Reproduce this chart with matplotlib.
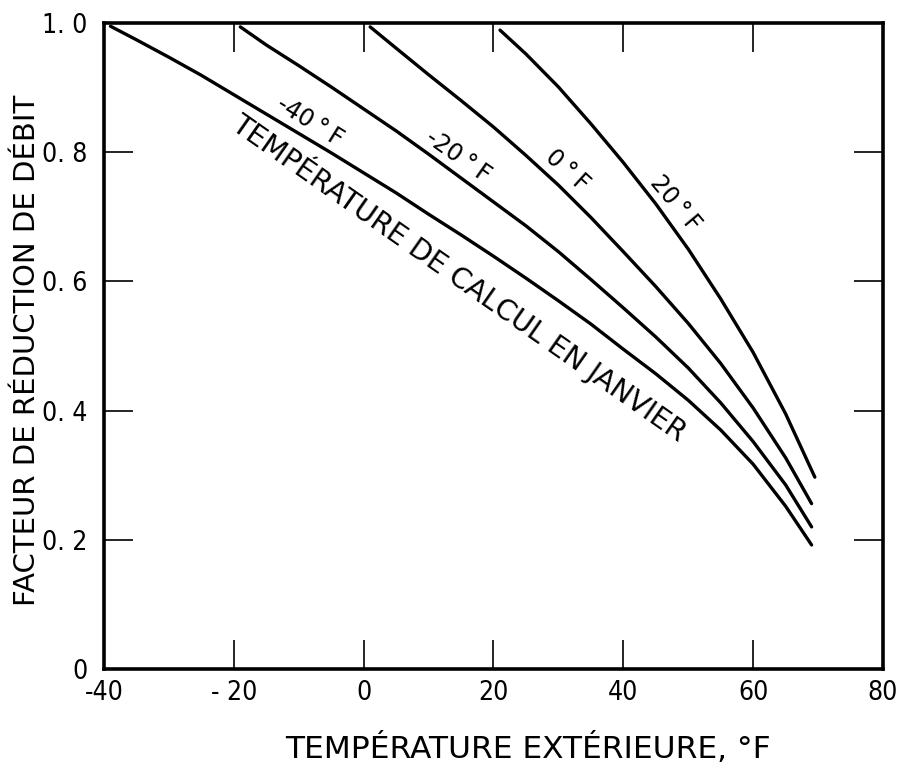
import matplotlib
matplotlib.use("Agg")
import matplotlib.pyplot as plt

# ---- data ----
temp_m40 = [-39, -35, -30, -25, -20, -15, -10, -5, 0, 5, 10, 15, 20, 25, 30, 35, 40, 45, 50, 55, 60, 65, 69]
fac_m40 = [0.995, 0.974, 0.947, 0.919, 0.889, 0.859, 0.829, 0.799, 0.768, 0.737, 0.704, 0.672, 0.639,
           0.605, 0.570, 0.534, 0.495, 0.457, 0.416, 0.370, 0.317, 0.252, 0.192]

temp_m20 = [-19, -15, -10, -5, 0, 5, 10, 15, 20, 25, 30, 35, 40, 45, 50, 55, 60, 65, 69]
fac_m20 = [0.994, 0.966, 0.934, 0.901, 0.867, 0.833, 0.797, 0.760, 0.723, 0.686, 0.646, 0.603,
           0.559, 0.514, 0.466, 0.412, 0.352, 0.285, 0.220]

temp_0 = [1, 5, 10, 15, 20, 25, 30, 35, 40, 45, 50, 55, 60, 65, 69]
fac_0 = [0.994, 0.961, 0.920, 0.880, 0.839, 0.795, 0.749, 0.699, 0.646, 0.592, 0.535, 0.473,
         0.404, 0.327, 0.256]

temp_20 = [21, 25, 30, 35, 40, 45, 50, 55, 60, 65, 69.5]
fac_20 = [0.989, 0.952, 0.901, 0.844, 0.784, 0.720, 0.650, 0.573, 0.490, 0.395, 0.297]

curve_labels = ["-40\u2009°\u2009F", "-20\u2009°\u2009F", "0\u2009°\u2009F", "20\u2009°\u2009F"]

x_ticks = [-40, -20, 0, 20, 40, 60, 80]
x_ticklabels = ["-40", "- 20", "0", "20", "40", "60", "80"]
y_ticks = [0, 0.2, 0.4, 0.6, 0.8, 1.0]
y_ticklabels = ["0", "0. 2", "0. 4", "0. 6", "0. 8", "1. 0"]

x_label = "TEMPÉRATURE EXTÉRIEURE, °F"
y_label = "FACTEUR DE RÉDUCTION DE DÉBIT"
note = "TEMPÉRATURE DE CALCUL EN JANVIER"

# ---- figure ----
fig = plt.figure(figsize=(9.01, 7.79), dpi=100)
ax = fig.add_axes([104 / 901, 1 - 669 / 779, (883 - 104) / 901, (669 - 23) / 779])

lw = 2.4
for xs, ys in [(temp_m40, fac_m40), (temp_m20, fac_m20), (temp_0, fac_0), (temp_20, fac_20)]:
    ax.plot(xs, ys, color="black", lw=lw, solid_capstyle="round", solid_joinstyle="round")

ax.set_xlim(-40, 80)
ax.set_ylim(0, 1.0)

tickfont = {"family": ["DejaVu Sans"], "stretch": "condensed", "size": 19}
ax.set_xticks(x_ticks)
ax.set_xticklabels(x_ticklabels, fontdict=tickfont)
ax.set_yticks(y_ticks)
ax.set_yticklabels(y_ticklabels, fontdict=tickfont)

ax.tick_params(direction="in", length=21, width=1.2, top=True, right=True,
               labeltop=False, labelright=False)
ax.tick_params(axis="x", pad=8)
ax.tick_params(axis="y", pad=12)

for s in ax.spines.values():
    s.set_linewidth(2.6)

labfont = ["DejaVu Sans"]
ax.set_xlabel(x_label, fontsize=22.5, family=labfont, va="center")
ax.xaxis.set_label_coords((528 - 104) / 779, (669 - 748) / 646)
ax.set_ylabel(y_label, fontsize=21, family=labfont, va="center")
ax.yaxis.set_label_coords((27 - 104) / 779, (669 - 350) / 646)

# curve labels (rotation in screen degrees)
txt_kw = dict(family=labfont, ha="center", va="center", rotation_mode="anchor", color="black")
ax.text(-8.3, 0.848, curve_labels[0], fontsize=17, rotation=-32, **txt_kw)
ax.text(14.6, 0.794, curve_labels[1], fontsize=17, rotation=-35, **txt_kw)
ax.text(31.4, 0.772, curve_labels[2], fontsize=17, rotation=-42, **txt_kw)
ax.text(48.0, 0.721, curve_labels[3], fontsize=17, rotation=-50, **txt_kw)
ax.text(14.8, 0.607, note, fontsize=20.5, rotation=-35, **txt_kw)

fig.savefig("out.png", dpi=100)
